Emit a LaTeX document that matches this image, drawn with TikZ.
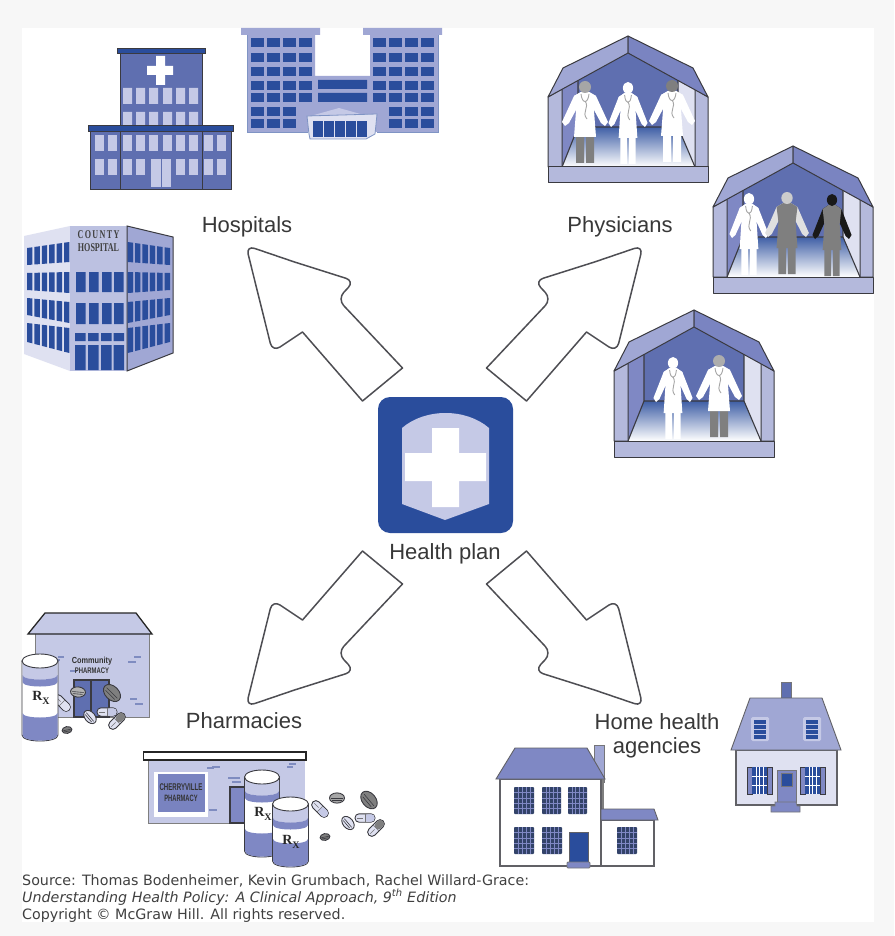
\documentclass[tikz,border=0pt]{standalone}
\usepackage{fontspec}
\setmainfont{Liberation Sans}
\newfontfamily\dejafont{DejaVu Sans}
\newfontfamily\rxfont{Liberation Serif}
\definecolor{hpnavy}{HTML}{2A4D9C}
\definecolor{hpmid}{HTML}{5F6FB0}
\definecolor{hpsoft}{HTML}{7F88C4}
\definecolor{hpperi}{HTML}{A0A7D4}
\definecolor{hplight}{HTML}{C5C9E6}
\definecolor{hpwall}{HTML}{B4B9DC}
\definecolor{hppale}{HTML}{DFE1F1}
\definecolor{hpink}{HTML}{3A3A40}
\definecolor{hpgray}{HTML}{7F7F7F}
\tikzset{
  outl/.style={draw=hpink,line width=1pt,line join=round},
  bigarrow/.style={draw=hpink!90,line width=1.5pt,fill=white,line join=round},
  lab/.style={anchor=base,font=\fontsize{22}{24}\selectfont,text=black!78,inner sep=0pt},
  foot/.style={anchor=base west,font=\dejafont\fontsize{14.26}{16}\selectfont,text=black!75,inner sep=0pt},
  brick/.style={draw=hpmid!80,line width=1.1pt},
  rxlab/.style={font=\rxfont\bfseries\fontsize{14}{14}\selectfont,inner sep=0pt,text=black!85},
  signtxt/.style={font=\bfseries,inner sep=0pt,text=black!80,align=center}
}
% block arrow, mirrored into each quadrant
\newcommand{\hpArrow}[2]{%
  \begin{scope}[shift={(444.5,476)},xscale=#1,yscale=#2]
    \path[bigarrow,rounded corners=9pt]
      (-150,-214) -- (-90,-195) -- (-107,-177)
      [sharp corners] -- (-42,-108) -- (-82,-75) -- (-142,-144)
      [rounded corners=9pt] -- (-172,-124) -- (-198.5,-230.5)
      [rounded corners=4pt] -- (-150,-214);
  \end{scope}}
% a person in a room
\newcommand{\hpPerson}[8]{%
  \begin{scope}[shift={(#1,#2)},xscale=#3,yscale=1]
    \fill[#7] (-9,48) rectangle (-1,76) (1,48) rectangle (9,76);
    \fill[#6] (-4,5) -- (-11,9) -- (-23,35) -- (-20,39) -- (-16,36) -- (-9,23) -- cycle;
    \fill[#6] (4,5) -- (11,9) -- (23,35) -- (20,39) -- (16,36) -- (9,23) -- cycle;
    \fill[#5] (-4,5) -- (4,5) -- (11,9) -- (9,24) -- (11,50) -- (-11,50) -- (-9,24) -- (-11,9) -- cycle;
    \fill[#4] (0,0) circle (6);
    \draw[#8,line width=.9pt] (-4,7) .. controls (-3,17) and (3,17) .. (4,7)
       (0,14) .. controls (5,21) and (-4,25) .. (2,32);
  \end{scope}}
% an exam room open to the viewer
\newcommand{\hpRoom}[2]{%
  \begin{scope}[shift={(#1,#2)}]
    \fill[hpmid] (0,17) -- (-66,53) -- (-66,131) -- (67,131) -- (67,53) -- cycle;
    \fill[hpsoft] (-66,53) -- (-50,44) -- (-50,91) -- (-66,131) -- cycle;
    \fill[hppale] (67,53) -- (50,44) -- (50,91) -- (67,131) -- cycle;
    \shade[top color=hpnavy!90,bottom color=white] (-50,91) -- (50,91) -- (67,131) -- (-66,131) -- cycle;
    \draw[hpink,line width=1.1pt] (-50,44) -- (-50,91) -- (-66,131) (50,44) -- (50,91) -- (67,131) (-50,91) -- (50,91);
    \path[outl,fill=hpwall] (-80,61) -- (-66,53) -- (-66,131) -- (-80,131) -- cycle;
    \path[outl,fill=hpwall] (80,61) -- (67,53) -- (67,131) -- (80,131) -- cycle;
    \path[outl,fill=hpperi] (0,0) -- (0,17) -- (-80,61) -- (-65,32) -- cycle;
    \path[outl,fill=hpsoft!85!hpmid] (0,0) -- (0,17) -- (80,61) -- (65,32) -- cycle;
    \path[outl,fill=hpwall] (-80,131) rectangle (80,147);
  \end{scope}}
% pills
\newcommand{\hpCapsule}[4]{%
  \begin{scope}[shift={(#1,#2)},rotate=#3]
    \path[draw=hpink,line width=.9pt,fill=hppale,rounded corners=4pt] (-10,-4.2) rectangle (10,4.2);
    \fill[#4,rounded corners=3pt] (0,-3.7) rectangle (9.5,3.7);
    \draw[hpink!70,line width=.6pt] (0,-4) -- (0,4) (-8,0) -- (-2,0);
  \end{scope}}
\newcommand{\hpTablet}[5]{%
  \begin{scope}[shift={(#1,#2)},rotate=#3]
    \path[draw=hpink,line width=.9pt,fill=#5] (0,0) ellipse ({#4} and {.68*#4});
    \draw[hpink,line width=.6pt] ({-.75*#4},0) -- ({.75*#4},0);
    \draw[hpink,line width=.6pt] ({-.65*#4},{.27*#4}) -- ({.65*#4},{.27*#4});
  \end{scope}}
% prescription bottle: centre x, cap y, half width, height below the cap
\newcommand{\hpBottle}[4]{%
  \begin{scope}[shift={(#1,#2)}]
    \path[draw=hpink,line width=.9pt,fill=white] (-#3,0) -- (-#3,{#4-6}) .. controls (-#3,{#4+2}) and (#3,{#4+2}) .. (#3,{#4-6}) -- (#3,0) -- cycle;
    \fill[hplight] (-#3+.5,3) -- (-#3+.5,14) .. controls (-#3+.5,20) and (#3-.5,20) .. (#3-.5,14) -- (#3-.5,3) -- cycle;
    \fill[hpsoft] (-#3+.5,14) .. controls (-#3+.5,20) and (#3-.5,20) .. (#3-.5,14) -- (#3-.5,21) .. controls (#3-.5,27) and (-#3+.5,27) .. (-#3+.5,21) -- cycle;
    \fill[hpsoft] (-#3+.5,{#4-28}) .. controls (-#3+.5,{#4-22}) and (#3-.5,{#4-22}) .. (#3-.5,{#4-28}) -- (#3-.5,{#4-6}) .. controls (#3-.5,{#4+1.5}) and (-#3+.5,{#4+1.5}) .. (-#3+.5,{#4-6}) -- cycle;
    \path[draw=hpink,line width=.9pt,fill=white] (0,0) ellipse ({#3} and 7);
  \end{scope}}
% county hospital side face
\newcommand{\hpCountyFace}{%
  \foreach \ta/\ba/\tb/\bb in {248/265/242/262,273/290/272/293,298/315/302/323,323/342/328/353}{%
    \foreach \xx in {27,34.4,41.8,49.2,56.6,64}{%
      \pgfmathsetmacro{\tl}{\ta+(\tb-\ta)*(\xx-27)/42}%
      \pgfmathsetmacro{\tr}{\ta+(\tb-\ta)*(\xx-22)/42}%
      \pgfmathsetmacro{\bl}{\ba+(\bb-\ba)*(\xx-27)/42}%
      \pgfmathsetmacro{\br}{\ba+(\bb-\ba)*(\xx-22)/42}%
      \fill[hpnavy] (\xx,\tl) -- (\xx+5.4,\tr) -- (\xx+5.4,\br) -- (\xx,\bl) -- cycle;
    }}}
% small paned window
\newcommand{\hpPane}[4]{%
  \fill[hpink!55!hpnavy,rounded corners=.8pt] (#1,#2) rectangle (#3,#4);
  \foreach \k in {.2,.4,.6,.8}{%
    \draw[hpsoft,line width=.5pt] ({#1+\k*(#3-#1)},#2) -- ({#1+\k*(#3-#1)},#4);
    \draw[hpsoft,line width=.5pt] (#1,{#2+\k*(#4-#2)}) -- (#3,{#2+\k*(#4-#2)});
  }}
% dormer window
\newcommand{\hpDormer}[2]{%
  \begin{scope}[shift={(#1,#2)}]
    \fill[hplight,rounded corners=1.5pt] (0,0) rectangle (18,24);
    \foreach \px in {3,7.2,11.4}\foreach \py in {3,8,13,18}{\fill[hpnavy] (\px,\py) rectangle (\px+3.6,\py+3.6);}
  \end{scope}}
% shuttered window
\newcommand{\hpShutter}[2]{%
  \begin{scope}[shift={(#1,#2)}]
    \path[draw=hpink,line width=.6pt,fill=hpsoft] (0,0) rectangle (5,27) (20,0) rectangle (25,27);
    \fill[hpnavy] (5,0) rectangle (20,27);
    \draw[white,line width=1pt] (12.5,0) -- (12.5,27) (5,9) -- (20,9) (5,18) -- (20,18);
    \draw[white,line width=.4pt] (9,0) -- (9,27) (16,0) -- (16,27);
  \end{scope}}
\begin{document}
\begin{tikzpicture}[x=1pt,y=-1pt]
\useasboundingbox (0,0) rectangle (894,936);
\fill[black!3] (0,0) rectangle (894,936);
\fill[white] (22,28) rectangle (874,922);

% ---------- hospital with cross
\path[draw=hpink,line width=.9pt,fill=hpmid] (120,53) rectangle (202,127);
\fill[white] (156,56) rectangle (165,85) (147,66) rectangle (173,75);
\path[draw=hpink,line width=.9pt,fill=hpnavy] (117,48) rectangle (205,53);
\foreach \xx in {123,136,149,163,176,189}{\fill[hplight] (\xx,88) rectangle (\xx+9,104) (\xx,112) rectangle (\xx+9,125);}
\path[draw=hpink,line width=1pt,fill=hpmid] (90,129) rectangle (231,189);
\draw[hpink,line width=1pt] (120,129) -- (120,189) (202,129) -- (202,189);
\path[draw=hpink,line width=.9pt,fill=hpnavy] (88,125) rectangle (233,131);
\foreach \xx in {95,108,123,136,149,163,176,189,204,217}{\fill[hplight] (\xx,135) rectangle (\xx+9,151);}
\foreach \xx in {95,108,123,136,176,189,204,217}{\fill[hplight] (\xx,159) rectangle (\xx+9,175);}
\fill[hplight] (151,159) rectangle (171,187);
\draw[hpmid,line width=.7pt] (161,159) -- (161,187);

% ---------- hospital with two wings
\fill[hpperi] (247,33) -- (315,33) -- (315,76) -- (370,76) -- (370,33) -- (438,33) -- (438,132) -- (247,132) -- cycle;
\draw[hpnavy!60,line width=.9pt] (247,33) -- (247,132) -- (308,132) (377,132) -- (438,132) -- (438,33);
\fill[hpperi] (241,28) rectangle (320,35) (363,28) rectangle (442,35);
\foreach \yy in {38,53,67,81,93}{\foreach \xx in {251,267,283,299,373,389,405,421}{\fill[hpnavy] (\xx,\yy) rectangle (\xx+13,\yy+9);}}
\foreach \yy in {107,119}{\foreach \xx in {251,267,283,389,405,421}{\fill[hpnavy] (\xx,\yy) rectangle (\xx+13,\yy+9);}}
\fill[hpnavy] (318,80) rectangle (367,89) (318,93) rectangle (367,102);
\fill[hplight] (339,108) -- (364,115) -- (314,115) -- cycle;
\path[draw=hpnavy!60,line width=.8pt,fill=hppale] (307,116) -- (377,114) -- (375,134) -- (366,139) -- (310,139) -- (309,134) -- cycle;
\foreach \xx in {313,324,335,346,357}{\fill[hpnavy] (\xx,121) rectangle (\xx+9.6,137);}

% ---------- county hospital
\fill[hppale] (24,236) -- (70,226) -- (70,371) -- (24,354) -- cycle;
\fill[hplight!75!hpperi] (70,226) rectangle (127,371);
\path[draw=hpink,line width=1pt,fill=hpperi] (127,226) -- (173,237) -- (173,353) -- (127,371) -- cycle;
\hpCountyFace
\begin{scope}[xshift=197pt,xscale=-1]\hpCountyFace\end{scope}
\foreach \xx in {76,89,102,114}{\fill[hpnavy] (\xx,272) rectangle (\xx+9.5,292) (\xx,303) rectangle (\xx+9.5,324);}
\foreach \xx in {75,88,101,113.5}{\fill[hpnavy] (\xx,333) rectangle (\xx+10.5,341) (\xx,345) rectangle (\xx+10.5,370);}
\node[inner sep=0pt,text=black!75] (countya) at (98.5,235) {\rxfont\bfseries\fontsize{8.5}{9}\selectfont\scalebox{.95}[1.4]{C\,O\,U\,N\,T\,Y}};
\node[inner sep=0pt,text=black!75] (countyb) at (98.5,248) {\rxfont\bfseries\fontsize{8.5}{9}\selectfont\scalebox{.95}[1.4]{HOSPITAL}};

% ---------- exam rooms
\hpRoom{628}{36}
\hpPerson{585}{87}{1}{black!35}{white}{white}{hpgray}{black!35}
\hpPerson{628}{88}{.85}{white}{white}{white}{white}{black!35}
\hpPerson{672}{86}{1}{hpgray}{white}{white}{white}{black!35}
\hpRoom{793}{146}
\hpPerson{749}{199}{.85}{white}{white}{white}{white}{black!35}
\hpPerson{787}{198}{.95}{black!20}{hpgray}{black!12}{hpgray}{hpgray}
\hpPerson{832}{200}{.85}{black!90}{hpgray}{black!90}{hpgray}{hpgray}
\hpRoom{694}{310}
\hpPerson{673}{363}{.85}{white}{white}{white}{white}{black!35}
\hpPerson{719}{361}{1}{black!32}{white}{white}{hpgray}{black!35}

% ---------- community pharmacy
\fill[hplight] (35,634) rectangle (149,717);
\draw[hpgray,line width=.8pt] (35,634) -- (35,717) -- (149,717) -- (149,634);
\path[draw=black!85,line width=1.3pt,fill=hplight,line join=miter] (28,634) -- (45,613) -- (136,613) -- (152,634) -- cycle;
\path[draw=hpink,line width=1.2pt,fill=hpmid] (74,680) rectangle (91,717) (91,680) rectangle (109,717);
\draw[brick] (58,657) -- (64,657) (52,660) -- (60,660) (128,662) -- (136,662) (134,657) -- (141,657) (70,671) -- (77,671) (130,699) -- (137,699) (135,704) -- (143,704);
\node[signtxt] (comma) at (92,661) {\fontsize{8}{8}\selectfont\scalebox{.92}[1.1]{Community}};
\node[signtxt] (commb) at (92,670.5) {\fontsize{7.4}{8}\selectfont\scalebox{.8}[1.1]{PHARMACY}};
\hpTablet{78}{692}{-5}{7.5}{black!30}
\hpTablet{112}{693}{-45}{10}{hpgray}
\hpCapsule{62}{703}{-45}{hppale}
\hpTablet{90}{717}{-50}{7.5}{hppale}
\hpCapsule{107}{712}{0}{hplight}
\hpCapsule{117}{721}{45}{hpgray}
\hpTablet{67}{730}{10}{5}{hpgray}
\hpBottle{40}{661}{18}{80}
\node[rxlab] (rxa) at (41,698) {R\raisebox{-.5ex}{\fontsize{10}{10}\selectfont X}};

% ---------- cherryville pharmacy
\fill[hplight] (148,758) rectangle (305,823);
\draw[hpgray,line width=.8pt] (148,758) -- (148,823) -- (305,823);
\path[draw=black!85,line width=1.3pt,fill=white] (143.5,752) rectangle (306,760);
\fill[white] (154,772) rectangle (208,817);
\fill[hpsoft!80!hpmid] (158,774) rectangle (205,812);
\draw[brick] (212,767) -- (220,767) (207,768) -- (214,768) (287,767) -- (293,767) (289,764) -- (296,764) (232,782) -- (241,782) (228,778) -- (240,778) (209,810) -- (217,810);
\node[signtxt,font=\bfseries] (chera) at (181,787) {\fontsize{8.5}{8}\selectfont\scalebox{.72}[1.15]{CHERRYVILLE}};
\node[signtxt,font=\bfseries] (cherb) at (181,798) {\fontsize{8}{8}\selectfont\scalebox{.72}[1.15]{PHARMACY}};
\path[draw=hpink,line width=1.2pt,fill=hpsoft] (230,787) rectangle (250,823);
\hpBottle{262}{777}{17.5}{80}
\node[rxlab] (rxb) at (263,814) {R\raisebox{-.5ex}{\fontsize{10}{10}\selectfont X}};
\hpBottle{290.5}{804}{18}{63}
\node[rxlab] (rxc) at (291,842) {R\raisebox{-.5ex}{\fontsize{10}{10}\selectfont X}};
\hpCapsule{320}{809}{-45}{hplight}
\hpTablet{337}{798}{0}{7.5}{black!35}
\hpTablet{369}{800}{-50}{10}{hpgray}
\hpTablet{348}{823}{-50}{7.5}{hppale}
\hpCapsule{365}{818}{0}{hplight}
\hpCapsule{376}{828}{45}{hpgray}
\hpTablet{325}{837}{10}{5}{hpgray}

% ---------- white two-storey house
\path[draw=hpink!70,line width=.9pt,fill=hpperi] (594,745) rectangle (604,782);
\fill[hpgray] (601,779) rectangle (604,810);
\path[draw=hpink!80,line width=1.2pt,fill=white] (500,779) rectangle (601,866);
\path[draw=hpink!80,line width=1.2pt,fill=white] (601,820) rectangle (654,866);
\path[draw=hpink!80,line width=.9pt,fill=hpsoft] (601,820) -- (601,809) -- (654,809) -- (658,820) -- cycle;
\path[draw=hpink!80,line width=.9pt,fill=hpsoft] (496,779) -- (515,748) -- (587,748) -- (605,779) -- cycle;
\hpPane{514}{787}{534}{814}
\hpPane{542}{787}{561}{814}
\hpPane{568}{787}{587}{814}
\hpPane{514}{827}{534}{854}
\hpPane{542}{827}{562}{854}
\hpPane{617}{827}{637}{854}
\path[draw=hpink!80,line width=.9pt,fill=hpnavy] (569,832) rectangle (588,862);
\path[draw=hpink!70,line width=.8pt,fill=hpsoft,rounded corners=1pt] (567,862) rectangle (590,868);

% ---------- house with dormers
\path[draw=hpink!70,line width=.8pt,fill=hpmid] (781,682) rectangle (791,698);
\path[draw=hpink!80,line width=1.1pt,fill=hppale] (736,750) rectangle (837,805);
\path[draw=hpink!80,line width=.9pt,fill=hpperi] (731,750) -- (750,698) -- (822,698) -- (841,750) -- cycle;
\hpDormer{751}{717}
\hpDormer{803}{717}
\hpShutter{747}{767}
\hpShutter{800}{767}
\path[draw=hpink!70,line width=.8pt,fill=hpsoft] (777,770) rectangle (796,802);
\path[draw=hpink!70,line width=.6pt,fill=hpnavy] (781,773) rectangle (792,786);
\path[draw=hpink!70,line width=.6pt,fill=hpsoft] (775,802) -- (796,802) -- (797,806) -- (800,806) -- (800,812) -- (771,812) -- (771,806) -- (775,806) -- cycle;

% ---------- health plan icon
\node[fill=hpnavy,rounded corners=12pt,minimum width=135pt,minimum height=136pt,inner sep=0pt] (plan) at (445.5,465) {};
\fill[hplight] (402,428) .. controls (425,408) and (466,408) .. (489,428) -- (489,504) -- (445,520) -- (402,504) -- cycle;
\fill[white] (432,428) rectangle (459,507) (405,453) rectangle (486,481);

% ---------- arrows
\hpArrow{1}{1}
\hpArrow{-1}{1}
\hpArrow{1}{-1}
\hpArrow{-1}{-1}

% ---------- labels
\node[lab] (hosp) at (247,232) {Hospitals};
\node[lab] (phys) at (620,232) {Physicians};
\node[lab] (hplan) at (445,559) {Health plan};
\node[lab] (pharm) at (244,728) {Pharmacies};
\node[lab] (home) at (657,729) {Home health};
\node[lab] (agen) at (657,753) {agencies};
\node[foot] (srca) at (22,885) {Source: Thomas Bodenheimer, Kevin Grumbach, Rachel Willard-Grace:};
\node[foot] (srcb) at (22,902) {\itshape Understanding Health Policy: A Clinical Approach, 9\textsuperscript{th} Edition};
\node[foot] (srcc) at (22,919) {Copyright © McGraw Hill. All rights reserved.};
\end{tikzpicture}
\end{document}
